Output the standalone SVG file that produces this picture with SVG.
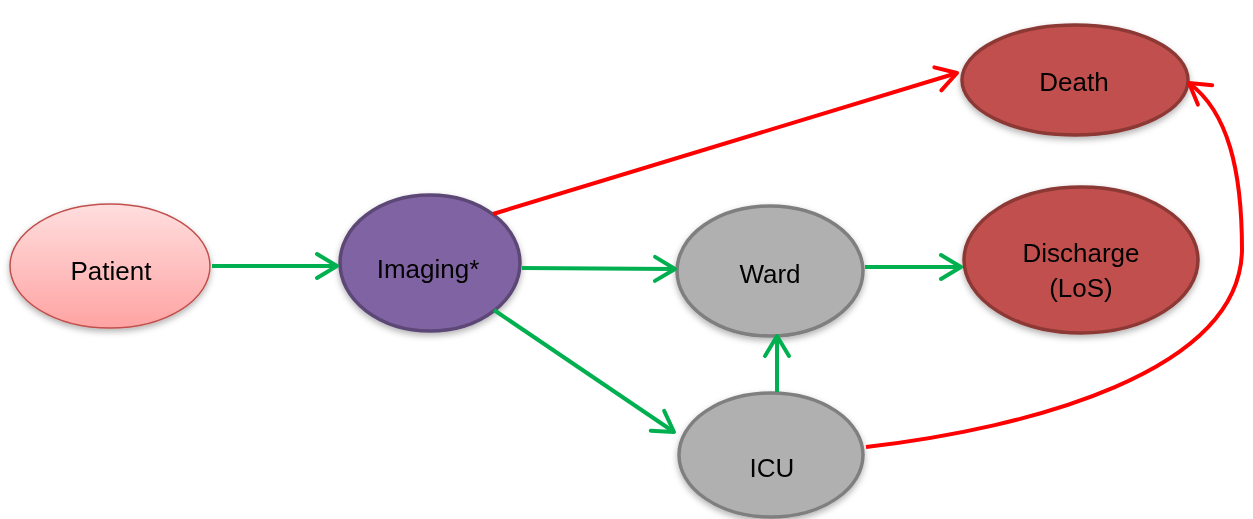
<svg xmlns="http://www.w3.org/2000/svg" width="1253" height="519" viewBox="0 0 1253 519">
<style>
.lbl{font-family:"Liberation Sans",Arial,sans-serif;font-size:26px;fill:#000;text-anchor:middle}
.g{fill:none;stroke:#00b050;stroke-width:4;marker-end:url(#ag)}
.r{fill:none;stroke:#ff0000;stroke-width:4;marker-end:url(#ar)}
.grey{fill:#b0b0b0;stroke:#7f7f7f;stroke-width:3.5}
.red{fill:#c0504d;stroke:#8c3836;stroke-width:3.5}
</style>
<defs>
<linearGradient id="pg" x1="0" y1="0" x2="0" y2="1">
<stop offset="0" stop-color="#ffdede"/>
<stop offset="1" stop-color="#ffa3a3"/>
</linearGradient>
<filter id="sh" x="-20%" y="-20%" width="140%" height="150%">
<feDropShadow dx="0" dy="3" stdDeviation="3" flood-color="#000" flood-opacity="0.3"/>
</filter>
<marker id="ag" viewBox="0 0 26 32" refX="23" refY="16" markerWidth="26" markerHeight="32" markerUnits="userSpaceOnUse" orient="auto">
<path d="M3,4 L23,16 L3,28" fill="none" stroke="#00b050" stroke-width="4" stroke-linecap="round" stroke-linejoin="round"/>
</marker>
<marker id="ar" viewBox="0 0 26 32" refX="23" refY="16" markerWidth="26" markerHeight="32" markerUnits="userSpaceOnUse" orient="auto">
<path d="M3,4 L23,16 L3,28" fill="none" stroke="#ff0000" stroke-width="4" stroke-linecap="round" stroke-linejoin="round"/>
</marker>
</defs>
<rect width="1253" height="519" fill="#fff"/>
<g id="patient" filter="url(#sh)">
<ellipse cx="110" cy="266" rx="100" ry="62" fill="url(#pg)" stroke="#c0504d" stroke-width="1.5"/>
<text class="lbl" x="111" y="280">Patient</text>
</g>
<g id="imaging" filter="url(#sh)">
<ellipse cx="430" cy="263" rx="90" ry="68" fill="#8064a2" stroke="#5c4776" stroke-width="3.5"/>
<text class="lbl" x="428" y="278">Imaging*</text>
</g>
<g id="death" filter="url(#sh)">
<ellipse cx="1075" cy="80" rx="113" ry="55" class="red"/>
<text class="lbl" x="1074" y="91">Death</text>
</g>
<g id="discharge" filter="url(#sh)">
<ellipse cx="1081" cy="260" rx="117" ry="73" class="red"/>
<text class="lbl" x="1081" y="262">Discharge</text>
<text class="lbl" x="1081" y="297">(LoS)</text>
</g>
<g id="ward" filter="url(#sh)">
<ellipse cx="770" cy="271" rx="93" ry="65" class="grey"/>
<text class="lbl" x="770" y="283">Ward</text>
</g>
<g id="icu" filter="url(#sh)">
<ellipse cx="771" cy="455" rx="92" ry="62" class="grey"/>
<text class="lbl" x="772" y="477">ICU</text>
</g>
<g id="connectors">
<line class="g" x1="212" y1="266" x2="337" y2="266"/>
<line class="g" x1="522" y1="268" x2="675" y2="269"/>
<line class="g" x1="865" y1="267" x2="961" y2="267"/>
<line class="g" x1="494" y1="310" x2="674" y2="432"/>
<line class="g" x1="777" y1="392" x2="777" y2="336"/>
<line class="r" x1="493" y1="214" x2="957" y2="73"/>
<path class="r" d="M866,447 C1030,428 1240,372 1242,250 C1242,170 1228,112 1189,83"/>
</g>
</svg>
